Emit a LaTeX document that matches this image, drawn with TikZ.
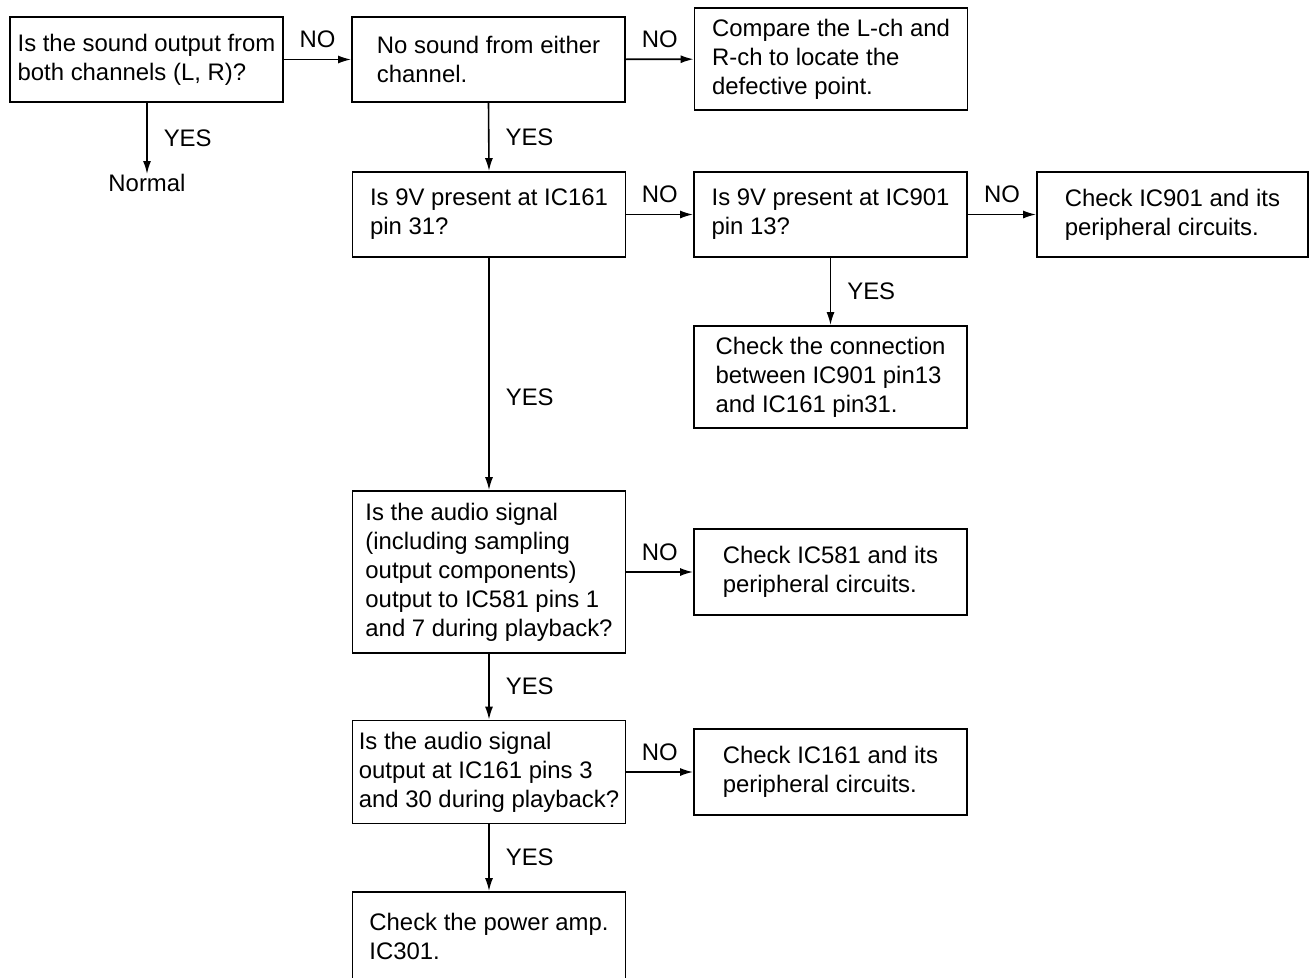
\documentclass[tikz,border=0pt]{standalone}
\usepackage{fontspec}
\setmainfont{Liberation Sans}
\usetikzlibrary{arrows.meta}

\tikzset{
  box/.style={draw,line width=1.8bp,inner sep=0pt,align=left,minimum width=273bp,minimum height=85bp,font=\fontsize{23.9bp}{29bp}\selectfont},
  tall/.style={minimum height=102bp},
  lbl/.style={inner sep=0pt,font=\fontsize{23.9bp}{29bp}\selectfont},
  yes/.style={lbl,anchor=west,xshift=16bp},
  no/.style={lbl,midway,yshift=20bp},
  arr/.style={line width=1.6bp,-{Latex[length=13bp,width=8bp]}}
}

\begin{document}
\begin{tikzpicture}[x=1bp,y=-1bp]
  \useasboundingbox (0,0) rectangle (1312,977);
  % top row
  \node[box] (both) at (146.5,59.5) {Is the sound output from\\both channels (L, R)?};
  \node[box] (either) at (488.5,59.5) {No sound from either\\channel.};
  \node[box,tall] (compare) at (831,59) {Compare the L-ch and\\R-ch to locate the\\defective point.};
  \node[lbl] (normal) at (147,183) {Normal};
  % 9V checks
  \node[box] (ic161) at (489,214.5) {Is 9V present at IC161\\pin 31?};
  \node[box] (ic901) at (830.5,214.5) {Is 9V present at IC901\\pin 13?};
  \node[box,minimum width=271bp] (chk901) at (1172.5,214.5) {Check IC901 and its\\peripheral circuits.};
  \node[box,tall] (conn) at (830.5,377) {Check the connection\\between IC901 pin13\\and IC161 pin31.};
  % audio signal checks
  \node[box,minimum height=162bp] (ic581q) at (489,572) {Is the audio signal\\(including sampling\\output components)\\output to IC581 pins 1\\and 7 during playback?};
  \node[box,minimum height=86bp] (chk581) at (830.5,572) {Check IC581 and its\\peripheral circuits.};
  \node[box,minimum height=103bp] (ic161q) at (489,772) {Is the audio signal\\output at IC161 pins 3\\and 30 during playback?};
  \node[box,minimum height=86bp] (chk161) at (830.5,772) {Check IC161 and its\\peripheral circuits.};
  \node[box,minimum height=88bp] (amp) at (489,936) {Check the power amp.\\IC301.};

  % connectors
  \draw[arr] (both) -- (either) node[no] {NO};
  \draw[arr] (either) -- (compare) node[no] {NO};
  \draw[arr] (both.south -| normal) -- (normal.north) node[yes,midway] {YES};
  \draw[arr] (either.south) -- (ic161.north) node[yes,midway] {YES};
  \draw[arr] (ic161) -- (ic901) node[no] {NO};
  \draw[arr] (ic901) -- (chk901) node[no] {NO};
  \draw[arr] (ic901.south) -- (conn.north) node[yes,midway] {YES};
  \draw[arr] (ic161.south) -- (ic581q.north) node[yes,pos=0.6] {YES};
  \draw[arr] (ic581q) -- (chk581) node[no] {NO};
  \draw[arr] (ic581q.south) -- (ic161q.north) node[yes,midway] {YES};
  \draw[arr] (ic161q) -- (chk161) node[no] {NO};
  \draw[arr] (ic161q.south) -- (amp.north) node[yes,midway] {YES};
\end{tikzpicture}
\end{document}
